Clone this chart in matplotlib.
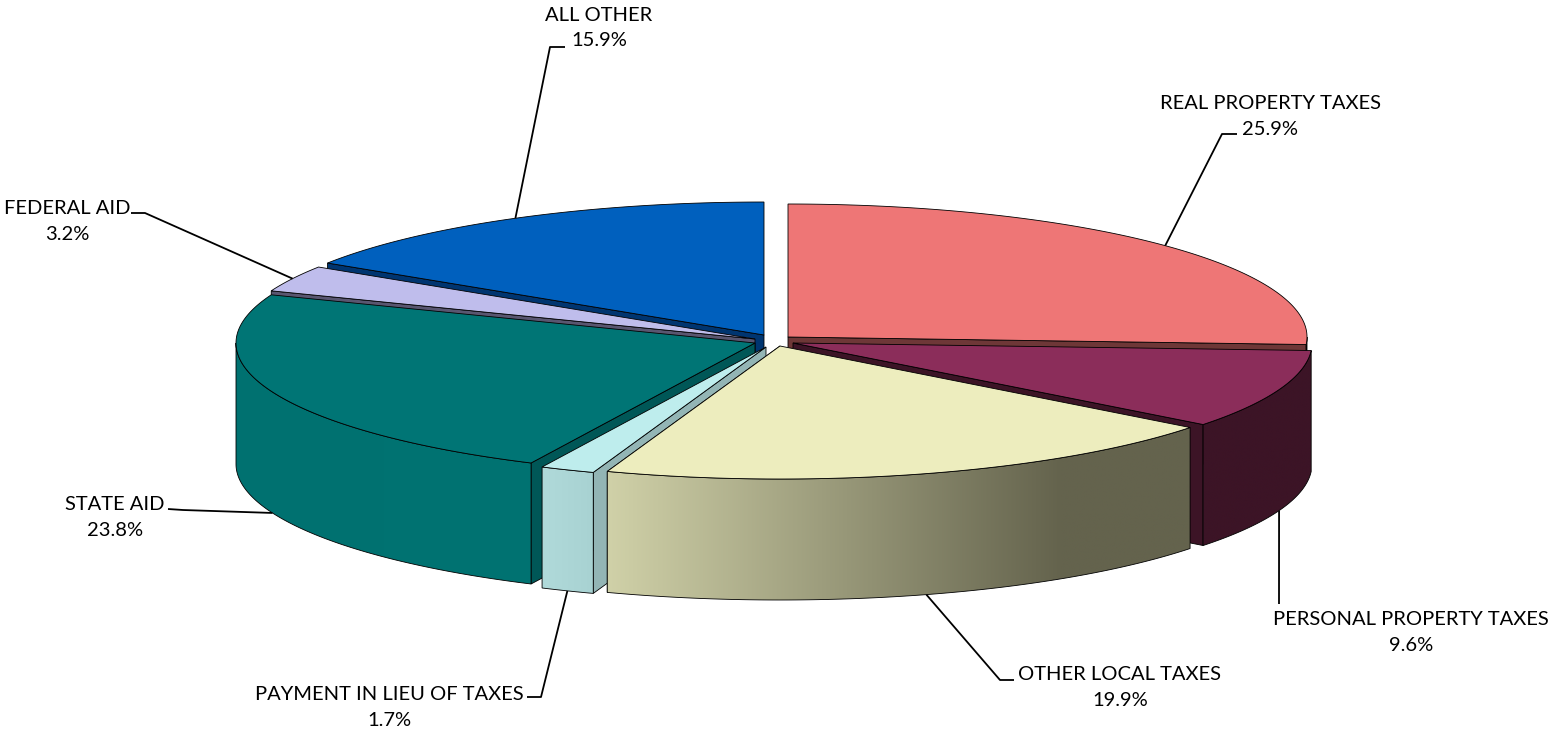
import numpy as np
import matplotlib
matplotlib.use("Agg")
import matplotlib.pyplot as plt
from matplotlib.colors import LinearSegmentedColormap
from matplotlib.patches import Polygon

categories = ["REAL PROPERTY TAXES", "PERSONAL PROPERTY TAXES", "OTHER LOCAL TAXES",
              "PAYMENT IN LIEU OF TAXES", "STATE AID", "FEDERAL AID", "ALL OTHER"]
shares = [25.9, 9.6, 19.9, 1.7, 23.8, 3.2, 15.9]

top_colors = ["#EE7676", "#8B2D5A", "#EDEDBE", "#BEEDED", "#007575", "#BFBDEC", "#0060BE"]
cut_colors = ["#6E3737", "#3C1426", "#62614A", "#93B5B5", "#005757", "#595670", "#003570"]
wall_left = ["#6E3737", "#3C1426", "#D0D1A8", "#B0DADA", "#007170", "#595670", "#003570"]
wall_right = ["#6E3737", "#3C1426", "#64634D", "#A8D2D2", "#007372", "#595670", "#003570"]

# layout: exploded apex of each slice in pixels, ellipse radii and wall height
centers = [(788, 337), (793, 343), (780, 346), (766, 347), (755, 343), (755, 339), (764, 335)]
RX, RY, DEPTH = 519, 133, 121
draw_order = [0, 6, 5, 4, 1, 3, 2]
cut_on_end = [True, True, True, False, False, False, False]
# elbow and end of each leader, and text centre
elbows = [((1222, 134), (1237, 134)), ((1279, 604), (1279, 604)), ((1000, 680), (1014, 680)),
          ((541, 697), (527, 697)), ((183, 510), (168, 509)), ((145, 213), (131, 213)),
          ((550, 47), (565, 47))]
label_pos = [(1270, 116.5), (1411, 632.5), (1120, 687.5), (389, 707.5), (115, 517.5), (67, 221.5), (599, 28)]
on_wall = [False, True, True, True, True, False, False]

fig = plt.figure(figsize=(15.54, 7.31), dpi=100)
ax = fig.add_axes([0, 0, 1, 1])
ax.axis("off")


def point(c, deg):
    t = np.radians(deg)
    return c[0] + RX * np.sin(t), c[1] - RY * np.cos(t)


def arc(c, a, b):
    t = np.linspace(a, b, max(int(abs(b - a) * 2), 2))
    x, y = point(c, t)
    return np.column_stack([x, y])


def down(pts):
    return np.asarray(pts) + np.array([0, DEPTH])


edges = np.minimum(np.concatenate([[0], np.cumsum(shares)]) * 3.6, 360)

for i in draw_order:
    c = centers[i]
    a, b = edges[i], edges[i + 1]
    z = 2 + draw_order.index(i)
    # cut face on the radius that looks at the viewer
    cp = np.array(point(c, b if cut_on_end[i] else a))
    ap = np.array(c, float)
    quad = np.array([ap, cp, cp + [0, DEPTH], ap + [0, DEPTH]])
    ax.add_patch(Polygon(quad, closed=True, fc=cut_colors[i], ec="black", lw=0.6, zorder=z))
    # outer wall, only the part facing the viewer
    lo, hi = max(a, 90), min(b, 270)
    if hi > lo:
        top = arc(c, lo, hi)
        poly = np.vstack([top, down(top)[::-1]])
        patch = Polygon(poly, closed=True, fc="none", ec="black", lw=0.6, zorder=z + 0.2)
        ax.add_patch(patch)
        x0, x1 = poly[:, 0].min(), poly[:, 0].max()
        y0, y1 = poly[:, 1].min(), poly[:, 1].max()
        if i == 2:
            stops = [(0, wall_left[i]), (0.78, wall_right[i]), (1, wall_right[i])]
        else:
            stops = [(0, wall_left[i]), (1, wall_right[i])]
        cmap = LinearSegmentedColormap.from_list("w", stops)
        im = ax.imshow(np.linspace(0, 1, 256)[None, :], extent=(x0, x1, y1, y0), cmap=cmap,
                       aspect="auto", zorder=z + 0.1, interpolation="bilinear")
        im.set_clip_path(patch)
    # top face
    face = np.vstack([[c], arc(c, a, b)])
    ax.add_patch(Polygon(face, closed=True, fc=top_colors[i], ec="black", lw=0.6, zorder=z + 0.3))

ax.set_xlim(0, 1554)
ax.set_ylim(731, 0)

for i, name in enumerate(categories):
    c = centers[i]
    mid = (edges[i] + edges[i + 1]) / 2
    x, y = point(c, mid)
    if on_wall[i]:
        y += DEPTH
    xs = [x, elbows[i][0][0], elbows[i][1][0]]
    ys = [y, elbows[i][0][1], elbows[i][1][1]]
    ax.plot(xs, ys, color="black", lw=1.3, zorder=30, solid_capstyle="butt")
    ax.text(label_pos[i][0], label_pos[i][1], f"{name}\n{shares[i]:.1f}%", ha="center", va="center",
            fontsize=14.5, family="Lato", color="black", linespacing=1.62, zorder=31)

fig.savefig("out.png", dpi=100)
